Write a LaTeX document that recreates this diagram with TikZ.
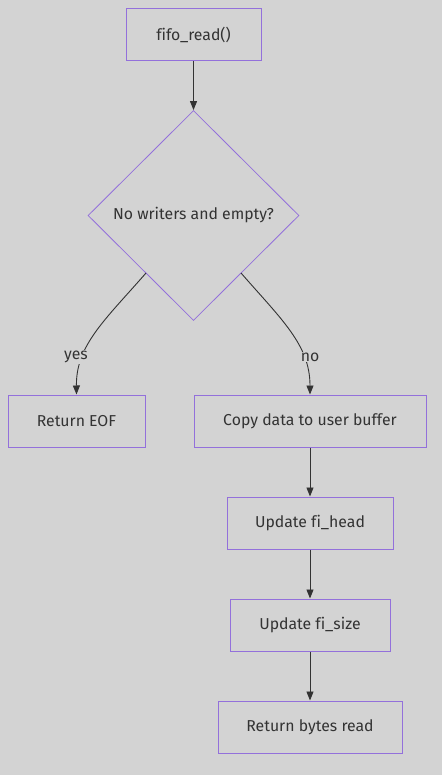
\documentclass[tikz,border=0pt]{standalone}
\usepackage{fontspec}
\setmainfont[Ligatures={NoCommon}]{Fira Sans}
\usetikzlibrary{arrows.meta,shapes.geometric}
\definecolor{bg}{HTML}{D3D3D3}
\definecolor{nodeborder}{HTML}{9370DB}
\definecolor{ink}{HTML}{333333}
\tikzset{
  x=1pt,y=-1pt,
  txt/.style={text=ink,font=\fontsize{15.8pt}{19pt}\selectfont},
  box/.style={txt,draw=nodeborder,line width=1pt,fill=bg,rectangle,minimum height=52pt,inner sep=0pt},
  decision/.style={txt,draw=nodeborder,line width=0.8pt,fill=bg,diamond,minimum width=211pt,minimum height=210pt,inner sep=0pt},
  flow/.style={draw=ink,line width=0.9pt,-{Triangle[length=9pt,width=7pt]}},
  lbl/.style={txt,fill=bg,inner sep=1pt}
}
\begin{document}
\begin{tikzpicture}
\fill[bg] (0,0) rectangle (442,775);
\useasboundingbox (0,0) rectangle (442,775);
\node[box,minimum width=135pt] (start) at (193.5,35) {fifo\_read()};
\node[decision] (dec) at (193.5,215.5) {No writers and empty?};
\node[box,minimum width=137pt] (eof) at (76.5,421) {Return EOF};
\node[box,minimum width=232pt] (copy) at (310,421) {Copy data to user buffer};
\node[box,minimum width=166pt] (head) at (310,523) {Update fi\_head};
\node[box,minimum width=160pt] (size) at (310,625) {Update fi\_size};
\node[box,minimum width=184pt] (ret) at (310,727) {Return bytes read};
\coordinate (yA) at (146,273);
\coordinate (nA) at (241,273);
\draw[flow] (start) -- (dec.north);
\draw[flow] (yA) .. controls (105,320) and (76,345) .. (eof.north);
\draw[flow] (nA) .. controls (282,320) and (310,345) .. (copy.north);
\node[lbl] (ylab) at (76,357) {yes};
\node[lbl] (nlab) at (310,357) {no};
\draw[flow] (copy) -- (head);
\draw[flow] (head) -- (size);
\draw[flow] (size) -- (ret);
\end{tikzpicture}
\end{document}
